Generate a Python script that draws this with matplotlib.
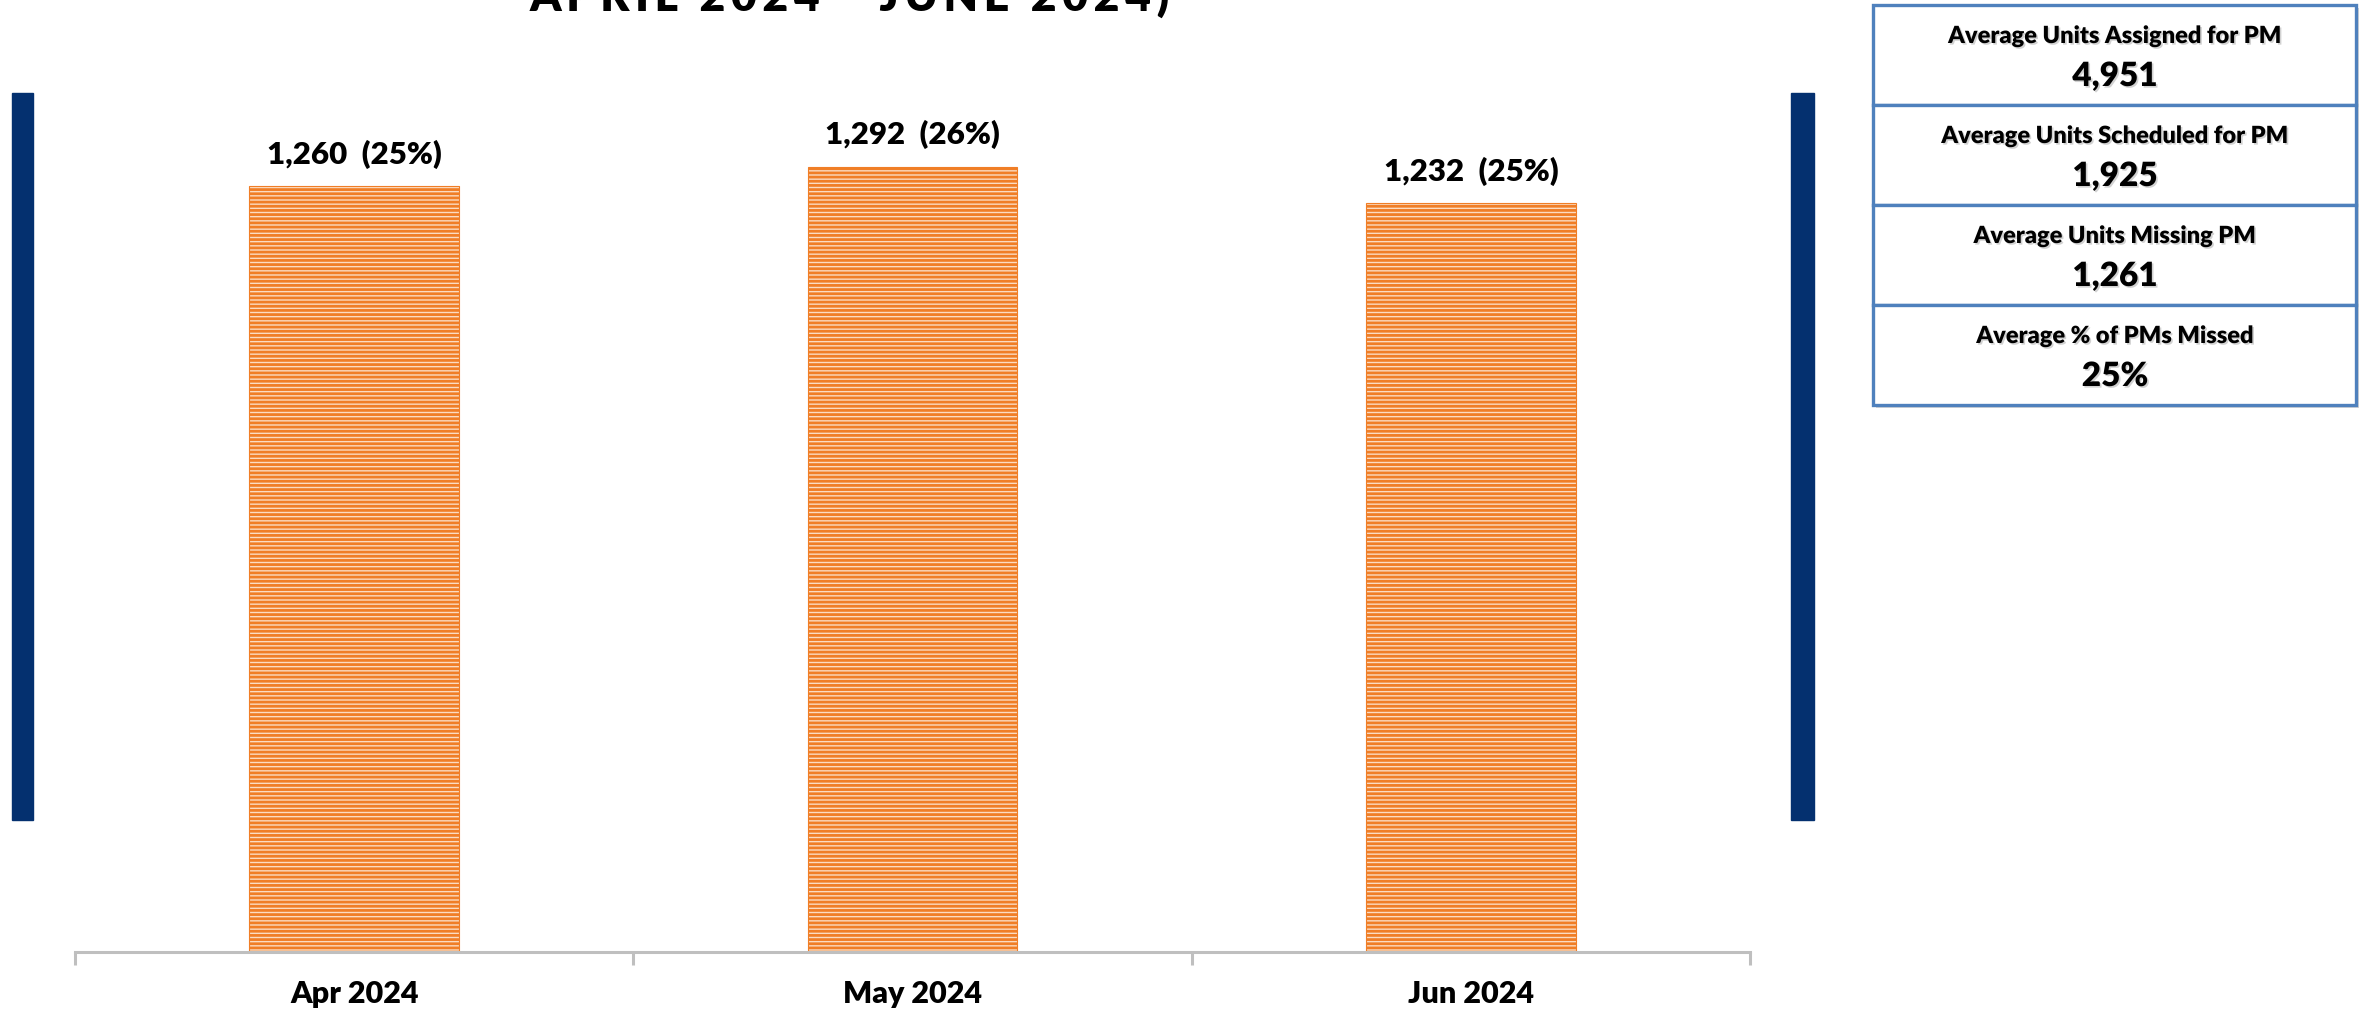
import matplotlib.pyplot as plt
from matplotlib.patches import Rectangle
import matplotlib.patheffects as pe

# data
months = ['Apr 2024', 'May 2024', 'Jun 2024']
missed = [1260, 1292, 1232]
pct = [25, 26, 25]
box_titles = ['Average Units Assigned for PM', 'Average Units Scheduled for PM',
              'Average Units Missing PM', 'Average % of PMs Missed']
box_values = ['4,951', '1,925', '1,261', '25%']
title = 'APRIL 2024 - JUNE 2024)'

plt.rcParams['font.family'] = ['Lato', 'DejaVu Sans']
plt.rcParams['hatch.linewidth'] = 2.0

W, H = 2359, 1014
fig = plt.figure(figsize=(W / 100, H / 100), dpi=100)
fig.patch.set_facecolor('white')

shadow = [pe.withSimplePatchShadow(offset=(1.2, -1.2), shadow_rgbFace='#808080', alpha=0.35)]
wt = 'heavy'

# main chart
ax = fig.add_axes([75 / W, 62 / H, 1675 / W, 859 / H])
x = list(range(len(months)))
ax.bar(x, missed, width=0.375, color='#FBDCC2', edgecolor='#F07E26', hatch='----', linewidth=0.8)
for i, v in enumerate(missed):
    ax.annotate(f'{v:,}  ({pct[i]}%)', (i, v), xytext=(0, 16), textcoords='offset points',
                ha='center', va='baseline', fontsize=22.5, fontweight=wt, color='black')

ax.set_xlim(-0.5, 2.5)
ax.set_ylim(0, 1413)
for s in ['top', 'left', 'right']:
    ax.spines[s].set_visible(False)
ax.spines['bottom'].set_color('#BFBFBF')
ax.spines['bottom'].set_linewidth(2.2)
ax.set_yticks([])
ax.set_xticks([-0.5, 0.5, 1.5, 2.5])
ax.set_xticklabels([])
ax.tick_params(axis='x', which='major', length=9, width=2.2, color='#BFBFBF')
ax.set_xticks(x, minor=True)
ax.set_xticklabels(months, minor=True, fontsize=22, fontweight=wt)
ax.tick_params(axis='x', which='minor', length=0, pad=20)

# dark blue side bars
for left, w in [(12, 21), (1791, 23)]:
    fig.add_artist(Rectangle((left / W, 1 - 820 / H), w / W, 727 / H,
                             transform=fig.transFigure, color='#04306F'))

# title (cut off at the top, wide letter spacing)
fig.text(850 / W, 1 - 11 / H, '\u2009'.join(title), ha='center', va='baseline', fontsize=32,
         fontweight='heavy', color='black')

# summary boxes
for i in range(4):
    top = 5 + 100 * i
    r = Rectangle((1873 / W, 1 - (top + 100) / H), 483 / W, 100 / H, transform=fig.transFigure,
                  facecolor='white', edgecolor='#4F81BD', linewidth=2.4)
    r.set_path_effects([pe.withSimplePatchShadow(offset=(2, -2), shadow_rgbFace='#999999', alpha=0.4)])
    fig.add_artist(r)
    fig.text(2115 / W, 1 - (top + 31) / H, box_titles[i], ha='center', va='center',
             fontsize=17, fontweight=wt, path_effects=shadow)
    fig.text(2115 / W, 1 - (top + 71) / H, box_values[i], ha='center', va='center',
             fontsize=24, fontweight=wt, path_effects=shadow)

fig.savefig('out.png', dpi=100)
